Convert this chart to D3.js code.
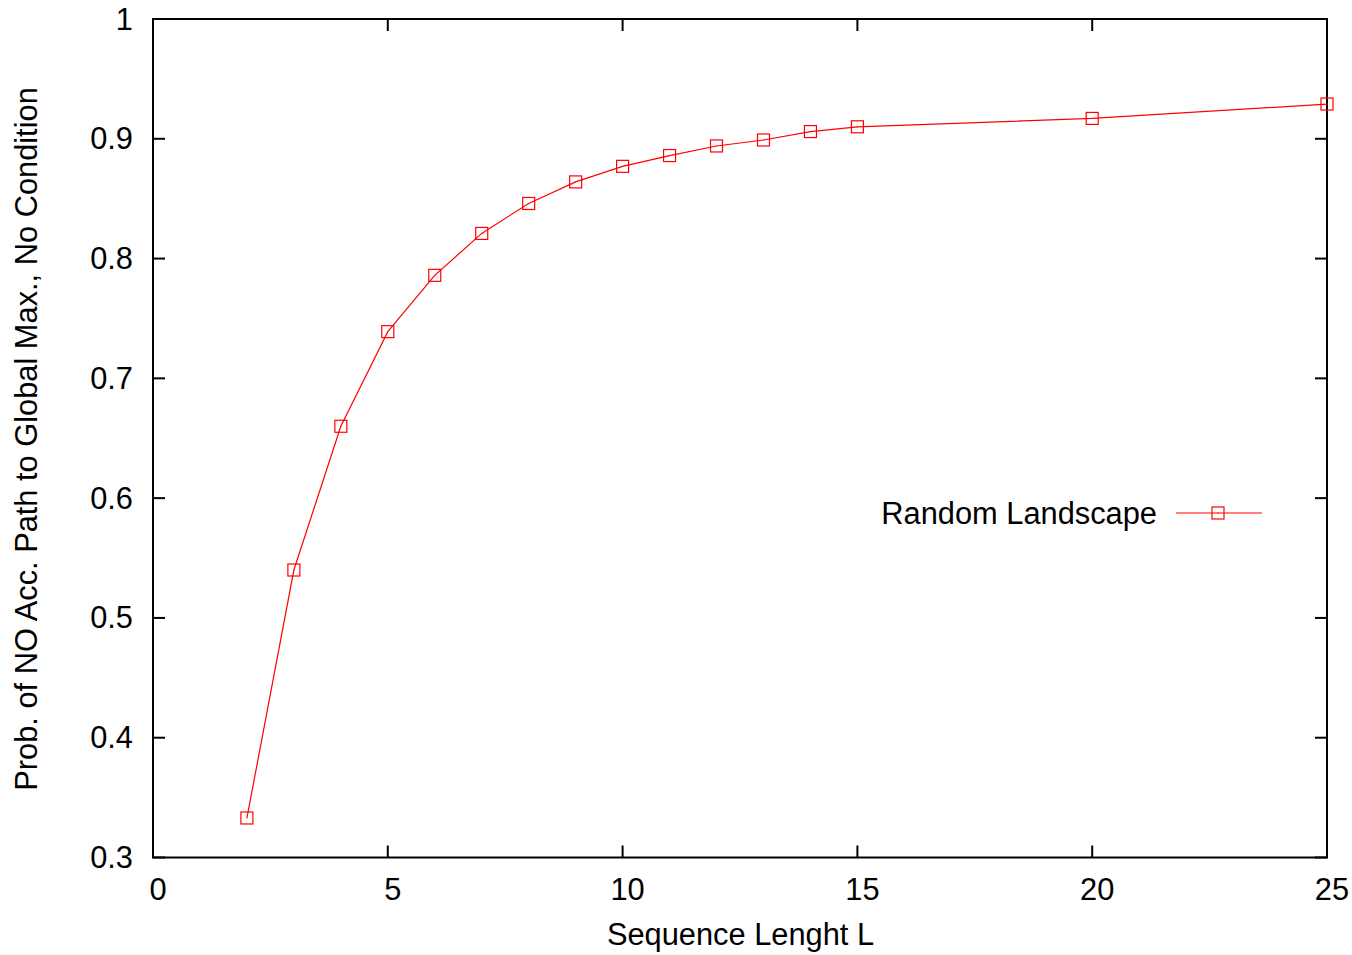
<!DOCTYPE html>
<html>
<head>
<meta charset="utf-8">
<script src="https://cdn.jsdelivr.net/npm/d3@7"></script>
<style>
  html, body { margin: 0; padding: 0; background: #fff; }
  svg { display: block; font-family: "Liberation Sans", Arial, Helvetica, sans-serif; }
</style>
</head>
<body>
<svg id="chart" width="1352" height="955"></svg>
<script>
// Sequence length L
const lengths = [2, 3, 4, 5, 6, 7, 8, 9, 10, 11, 12, 13, 14, 15, 20, 25];
// Probability of no accessible path to the global maximum
const probs = [0.333, 0.540, 0.660, 0.739, 0.786, 0.821, 0.846, 0.864, 0.877, 0.886, 0.894, 0.899, 0.906, 0.910, 0.917, 0.929];
const xTicks = [0, 5, 10, 15, 20, 25];
const yTicks = [0.3, 0.4, 0.5, 0.6, 0.7, 0.8, 0.9, 1];
const seriesName = "Random Landscape";
const xTitle = "Sequence Lenght L";
const yTitle = "Prob. of NO Acc. Path to Global Max., No Condition";

const svg = d3.select("#chart");
const plotLeft = 153, plotRight = 1327, plotTop = 19, plotBottom = 857.5;
const red = "#ff0000";
const fontSize = 30.8;

const x = d3.scaleLinear().domain([0, 25]).range([plotLeft, plotRight]);
const y = d3.scaleLinear().domain([0.3, 1]).range([plotBottom, plotTop]);

const tickLen = 12;
const fmtY = d => (d === 1 ? "1" : d3.format(".1f")(d));

// inward ticks on all four sides
const axes = svg.append("g").attr("stroke", "#000").attr("stroke-width", 2);
xTicks.forEach(t => {
  axes.append("line").attr("x1", x(t)).attr("x2", x(t)).attr("y1", plotBottom).attr("y2", plotBottom - tickLen);
  axes.append("line").attr("x1", x(t)).attr("x2", x(t)).attr("y1", plotTop).attr("y2", plotTop + tickLen);
});
yTicks.forEach(t => {
  axes.append("line").attr("x1", plotLeft).attr("x2", plotLeft + tickLen).attr("y1", y(t)).attr("y2", y(t));
  axes.append("line").attr("x1", plotRight).attr("x2", plotRight - tickLen).attr("y1", y(t)).attr("y2", y(t));
});
// frame
svg.append("rect")
  .attr("x", plotLeft).attr("y", plotTop)
  .attr("width", plotRight - plotLeft).attr("height", plotBottom - plotTop)
  .attr("fill", "none").attr("stroke", "#000").attr("stroke-width", 2);

// tick labels
svg.append("g").selectAll("text").data(xTicks).join("text")
  .attr("x", d => x(d) + 5).attr("y", plotBottom + 42)
  .attr("text-anchor", "middle").attr("font-size", fontSize).attr("fill", "#000")
  .text(d => d);
svg.append("g").selectAll("text").data(yTicks).join("text")
  .attr("x", plotLeft - 20).attr("y", d => y(d) + 10.5)
  .attr("text-anchor", "end").attr("font-size", fontSize).attr("fill", "#000")
  .text(fmtY);

// axis titles
svg.append("text")
  .attr("x", 740.5).attr("y", 945)
  .attr("text-anchor", "middle").attr("font-size", fontSize).attr("fill", "#000")
  .text(xTitle);
svg.append("text")
  .attr("transform", `translate(36.5,439) rotate(-90)`)
  .attr("text-anchor", "middle").attr("font-size", fontSize).attr("fill", "#000")
  .text(yTitle);

// data line
const line = d3.line().x((d, i) => x(lengths[i])).y(d => y(d));
svg.append("path")
  .attr("d", line(probs))
  .attr("fill", "none").attr("stroke", red).attr("stroke-width", 1.2);

// square markers with centre dot
const ms = 12;
function marker(g, cx, cy) {
  g.append("rect")
    .attr("x", cx - ms / 2).attr("y", cy - ms / 2)
    .attr("width", ms).attr("height", ms)
    .attr("fill", "none").attr("stroke", red).attr("stroke-width", 1.2);
  g.append("rect")
    .attr("x", cx - 0.5).attr("y", cy - 0.5).attr("width", 1).attr("height", 1)
    .attr("fill", red);
}
const mg = svg.append("g");
probs.forEach((p, i) => marker(mg, x(lengths[i]), y(p)));

// legend
const ly = 513;
svg.append("text")
  .attr("x", 1157).attr("y", ly + 11)
  .attr("text-anchor", "end").attr("font-size", fontSize).attr("fill", "#000")
  .text(seriesName);
svg.append("line")
  .attr("x1", 1176).attr("x2", 1262).attr("y1", ly).attr("y2", ly)
  .attr("stroke", red).attr("stroke-width", 1.2);
marker(svg.append("g"), 1218, ly);
</script>
</body>
</html>
